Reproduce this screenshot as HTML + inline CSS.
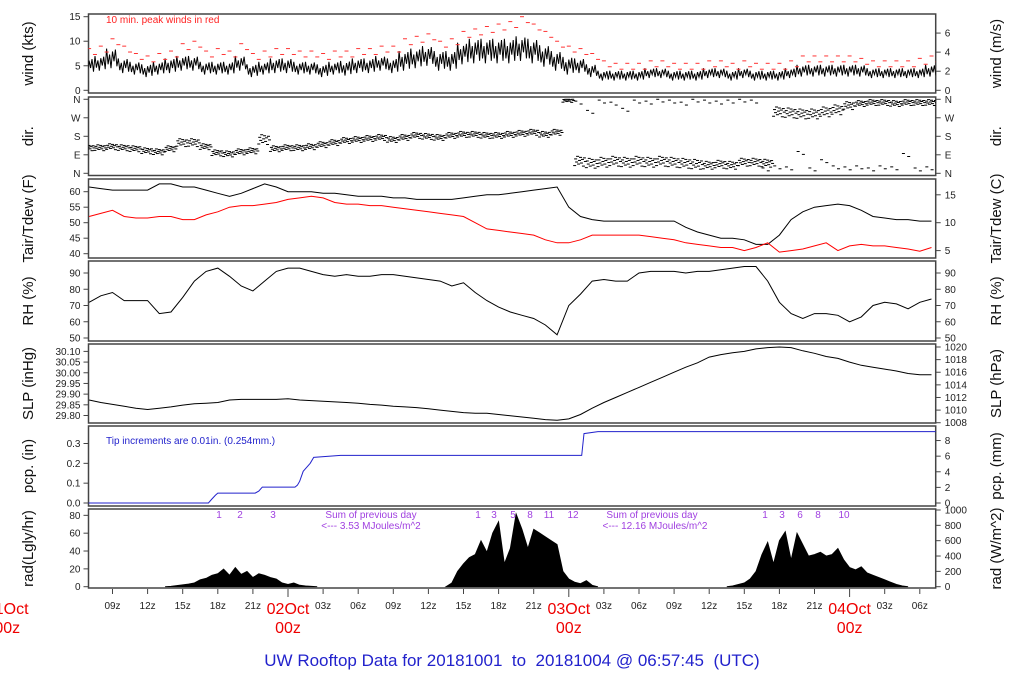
<!DOCTYPE html>
<html><head><meta charset="utf-8"><style>
html,body{margin:0;padding:0;background:#fff;}
svg{display:block;font-family:"Liberation Sans",sans-serif;}
</style></head><body>
<svg id="c" width="1024" height="700" xmlns="http://www.w3.org/2000/svg"></svg>
<script>
// ---------- data (hourly from hour 7 of 01Oct) ----------
const startHour = 7;
const windMean = [5,5.5,6.5,5,4.5,4,4.5,5,5.5,5.5,4.5,4.5,4.5,5.5,4,4.5,5,5,4.5,4.5,4,4.5,4.5,5,5,5.5,5,6,6.5,7,6,6,7.5,8,8,8,8,8.5,8,7,6,5,5,4,3,3,3,3,3.5,3.5,3,3,3,3.5,3.5,3,3.5,3,3,3,3.5,4,4,4,4,4,4,3.5,3.5,3.5,3.5,3.5,4];
const windSpread = [1.5,1.5,2,1.5,1.3,1.3,1.3,1.5,1.5,1.5,1.3,1.3,1.3,1.5,1.3,1.3,1.5,1.5,1.3,1.3,1.3,1.3,1.5,1.5,1.5,1.5,1.5,2,2,2,2,2,2.2,2.5,2.5,2.5,2.5,2.5,2.5,2.2,2,1.8,1.5,1.3,1,1,1,1,1,1,1,1,1,1,1,1,1,1,1,1,1,1.2,1.2,1.2,1.2,1.2,1.2,1,1,1,1,1,1.2];
const windGust = [8.5,9,10.5,9,7.5,7,7.5,8,9.5,10,8,8.5,8,9.5,7.5,8,8.5,8.5,8,8,7.5,8,8,8.5,8.5,9,9,10.5,11,11.5,10,10.5,12,12.5,13,13.5,14,15,13.5,12,10,9,8.5,7.5,6,5.5,5.5,5.5,6,6,5.5,5.5,5.5,6,6,5.5,6,5.5,5.5,5.5,6,7,7,7,7,7,6.5,6,6,6,6,6.5,7];
const dirMain = [125,125,130,125,120,110,105,120,150,150,130,100,95,105,110,165,120,125,125,130,140,150,160,165,170,175,165,175,185,180,175,185,190,190,185,185,190,195,200,190,200,355,60,50,55,60,55,60,55,60,55,50,45,40,45,40,55,55,50,300,295,290,290,300,310,330,340,345,345,340,345,345,345];
const dirSpread = [15,15,15,15,15,15,15,15,20,20,15,15,15,15,15,25,15,15,15,15,15,15,15,15,15,15,15,15,15,15,15,15,15,15,15,15,15,15,15,15,15,10,25,25,25,25,25,25,25,25,25,25,25,20,20,20,20,20,20,25,25,25,25,25,25,20,15,15,15,15,15,15,15];
const dirAlt = [null,null,null,null,null,null,null,null,null,null,null,null,null,null,null,null,null,null,null,null,null,null,null,null,null,null,null,null,null,null,null,null,null,null,null,null,null,null,null,null,null,null,345,300,350,340,310,350,345,355,350,340,355,350,345,350,355,350,20,30,25,100,20,60,30,25,30,20,30,25,90,20,25];
const tair = [61.5,61,60.5,60.5,60.5,60.5,62.5,62.5,61.5,61.5,60.5,59.5,58.5,59.5,61,62.5,61.5,60,60,60,59.5,59.5,59,58.5,58.5,58.5,58,58,57.5,57.5,57.5,57.5,58,58.5,59,59,59.5,60,60.5,61,61.5,55,52,51,50.5,50.5,50.5,50.5,50.5,50.5,50.5,48.5,47,46,45,45,44.5,43,43,46,51,53.5,55,55.5,56,55.5,54,52,51.5,51,51,50.5,50.5];
const tdew = [52,53,54,52,51.5,51.5,52,52,51,51,52.5,53.5,55,55.5,55.5,56,56.5,57.5,58,58.5,58,56.5,56,56,55.5,55.5,55,54.5,54,53.5,53,52.5,52,50,48,47.5,47,46.5,46,44.5,43.5,43.5,44.5,46,46,46,46,46,45.5,45,44.5,43.5,43,42.5,42,42,41,42,43.5,40.5,41,41.5,42.5,43.5,41,42.5,43,42.5,42.5,42,41.5,40.8,42];
const rh = [72,76,78,73,73,73,65,66,75,85,91,93,88,82,79,85,91,93,93,91,89,88,89,88,88,89,89,88,87,86,85,82,84,78,73,69,66,64,62,58,52,70,77,85,86,85,85,90,91,91,91,90,91,91,92,93,94,94,85,72,65,62,65,65,64,60,63,70,72,71,68,72,74];
const slp = [1011.6,1011.2,1010.9,1010.6,1010.3,1010.1,1010.3,1010.5,1010.8,1011,1011.1,1011.2,1011.6,1011.7,1011.7,1011.7,1011.7,1011.8,1011.6,1011.5,1011.4,1011.3,1011.2,1011.1,1010.9,1010.8,1010.6,1010.5,1010.4,1010.2,1010,1009.8,1009.6,1009.5,1009.5,1009.3,1009.1,1008.9,1008.7,1008.5,1008.4,1008.6,1009.3,1010.3,1011.2,1012,1012.8,1013.6,1014.4,1015.2,1016,1016.8,1017.5,1018.4,1018.8,1019.1,1019.3,1019.7,1019.9,1020,1019.9,1019.4,1019,1018.5,1018.2,1017.6,1017.1,1016.8,1016.5,1016.2,1015.8,1015.6,1015.6];
const pcpTimes = [6.8,17.2,17.5,17.8,18.0,21.2,21.5,21.8,24.6,24.8,25.0,25.3,25.6,25.9,26.2,28.5,49.1,49.3,50.5,79.6];
const pcpVals  = [0,0,0.02,0.04,0.05,0.05,0.06,0.08,0.08,0.09,0.11,0.16,0.18,0.2,0.23,0.24,0.24,0.35,0.36,0.36];
const radDay1Start = 13.5;
const radDay1 = [0,5,15,25,35,50,90,110,150,170,230,150,250,160,200,120,170,150,120,100,50,30,50,20,10,5,0];
const radDay2Start = 37.5;
const radDay2 = [0,50,200,300,380,420,600,450,700,850,300,500,950,750,500,750,700,650,600,550,200,100,60,40,80,20,0];
const radDay3Start = 61.5;
const radDay3 = [0,10,30,50,100,200,420,580,300,600,720,350,700,550,400,420,450,400,420,500,350,250,220,260,180,150,120,90,60,30,10,0];
const xTickHours = [9,12,15,18,21,24,27,30,33,36,39,42,45,48,51,54,57,60,63,66,69,72,75,78];
const dayHours = [0,24,48,72];
const dayNames = ["01Oct","02Oct","03Oct","04Oct"];

const NS="http://www.w3.org/2000/svg";
const svg=document.getElementById('c');
const L=88.5,R=935.7;
const X=h=>7.2+11.7*h;
function el(tag,attrs,parent){const e=document.createElementNS(NS,tag);for(const k in attrs)e.setAttribute(k,attrs[k]);(parent||svg).appendChild(e);return e;}
function txt(s,x,y,attrs,parent){const e=el('text',Object.assign({x:x,y:y},attrs),parent);e.textContent=s;return e;}
const clip=el('clipPath',{id:'pc'});el('rect',{x:L,y:0,width:R-L,height:700},clip);

const panels=[
 {id:'wind',t:14,b:93,lt:'wind (kts)',rt:'wind (m/s)'},
 {id:'dir',t:97,b:175.5,lt:'dir.',rt:'dir.'},
 {id:'temp',t:179,b:258,lt:'Tair/Tdew (F)',rt:'Tair/Tdew (C)'},
 {id:'rh',t:261,b:341,lt:'RH (%)',rt:'RH (%)'},
 {id:'slp',t:344,b:423,lt:'SLP (inHg)',rt:'SLP (hPa)'},
 {id:'pcp',t:426,b:506,lt:'pcp. (in)',rt:'pcp. (mm)'},
 {id:'rad',t:509,b:588,lt:'rad(Lgly/hr)',rt:'rad (W/m^2)'}];
const Y={
 wind:v=>90.3-v*4.907,
 dir:d=>173.3-d*0.2056,
 temp:f=>191.7+(60-f)*3.1,
 rh:r=>273+(90-r)*1.625,
 slp:p=>347+(1020-p)*6.31,
 pcp:i=>503-i*198.3,
 rad:w=>586.7-w*0.0767};
const leftTicks={
 wind:[[0,'0'],[5,'5'],[10,'10'],[15,'15']],
 dir:[[0,'N'],[90,'E'],[180,'S'],[270,'W'],[360,'N']],
 temp:[40,45,50,55,60].map(v=>[v,String(v)]),
 rh:[50,60,70,80,90].map(v=>[v,String(v)]),
 slp:[29.80,29.85,29.90,29.95,30.00,30.05,30.10].map(v=>[v*33.8639,v.toFixed(2)]),
 pcp:[0,0.1,0.2,0.3].map(v=>[v,v.toFixed(1)]),
 rad:[0,20,40,60,80].map(v=>[v*11.63,String(v)])};
const rightTicks={
 wind:[0,2,4,6].map(v=>[v*1.9438,String(v)]),
 dir:leftTicks.dir,
 temp:[5,10,15].map(v=>[v*9/5+32,String(v)]),
 rh:leftTicks.rh,
 slp:[1008,1010,1012,1014,1016,1018,1020].map(v=>[v,String(v)]),
 pcp:[0,2,4,6,8].map(v=>[v/25.4,String(v)]),
 rad:[0,200,400,600,800,1000].map(v=>[v,String(v)])};

panels.forEach(p=>{
 const g=el('g',{});
 
 
 el('rect',{x:L,y:p.t,width:R-L,height:p.b-p.t,fill:'none',stroke:'#444','stroke-width':1.5},g);
 const cy=(p.t+p.b)/2;
 const lt=txt(p.lt,0,0,{transform:`translate(33,${cy}) rotate(-90)`,'text-anchor':'middle','font-size':15,fill:'#111'},g);
 
 
 const rt=txt(p.rt,0,0,{transform:`translate(1001,${cy}) rotate(-90)`,'text-anchor':'middle','font-size':15,fill:'#111'},g);
 
 
 leftTicks[p.id].forEach(([v,s])=>{const y=Y[p.id](v);el('line',{x1:L-5,x2:L,y1:y,y2:y,stroke:'#444'},g);txt(s,L-8,y+3.5,{'text-anchor':'end','font-size':10,fill:'#222'},g);});
 rightTicks[p.id].forEach(([v,s])=>{const y=Y[p.id](v);el('line',{x1:R,x2:R+5,y1:y,y2:y,stroke:'#444'},g);txt(s,R+9,y+3.5,{'font-size':10,fill:'#222'},g);});
});

function poly(pts){return pts.map(p=>p[0].toFixed(1)+','+p[1].toFixed(1)).join(' ');}
const plot=el('g',{'clip-path':'url(#pc)'});

// wind: zigzag between mean±spread to mimic 1-min noise
{
 const zz=[1,-0.6,0.4,-1,0.7,-0.3,0.9,-0.8];
 const pts=[];
 windMean.forEach((m,i)=>{zz.forEach((o,k)=>{pts.push([X(startHour+i-0.5+k/8),Y.wind(Math.max(0,m+o*windSpread[i]))]);});});
 const ml=el('polyline',{points:poly(pts),fill:'none',stroke:'#000','stroke-width':1},plot);
 
 
 windGust.forEach((g,i)=>{
  [[0,0],[0.5,-1.2]].forEach(([dx,dy])=>{
   const x=X(startHour+i+dx),y=Y.wind(g+dy);
   const d=el('line',{x1:x-2,x2:x+2,y1:y,y2:y,stroke:'#f33','stroke-width':1},plot);
   
   
  });
 });
 const t=txt('10 min. peak winds in red',106,23,{'font-size':10,fill:'#f22'});
 
 
}
// direction dashes
{
 const pat=[-0.9,0.4,-0.2,0.9,-0.6,0.1,0.7,-0.4,0.3,-1,0.6,-0.1];
 const g=el('g',{stroke:'#000','stroke-width':1},plot);
 
 
 dirMain.forEach((d,i)=>{
  pat.forEach((o,k)=>{
   const x=X(startHour+i+k/12-0.5),y=Y.dir(Math.min(360,Math.max(0,d+o*dirSpread[i])));
   el('line',{x1:x-1.5,x2:x+1.5,y1:y,y2:y},g);
  });
  const a=dirAlt[i];
  if(a!==null){[0.1,0.55].forEach((f,k)=>{const x=X(startHour+i+f-0.5),y=Y.dir(Math.min(360,a+(k?-8:6)));el('line',{x1:x-1.5,x2:x+1.5,y1:y,y2:y},g);});}
 });
}
{
 const a=el('polyline',{points:poly(tair.map((v,i)=>[X(startHour+i),Y.temp(v)])),fill:'none',stroke:'#000','stroke-width':1},plot);
 
 
 const d=el('polyline',{points:poly(tdew.map((v,i)=>[X(startHour+i),Y.temp(v)])),fill:'none',stroke:'#f00','stroke-width':1},plot);
 
 
}
{
 const l=el('polyline',{points:poly(rh.map((v,i)=>[X(startHour+i),Y.rh(v)])),fill:'none',stroke:'#000','stroke-width':1},plot);
 
 
}
{
 const l=el('polyline',{points:poly(slp.map((v,i)=>[X(startHour+i),Y.slp(v)])),fill:'none',stroke:'#000','stroke-width':1},plot);
 
 
}
{
 const l=el('polyline',{points:poly(pcpTimes.map((t,i)=>[X(t),Y.pcp(pcpVals[i])])),fill:'none',stroke:'#22c','stroke-width':1},plot);
 
 
 const t=txt('Tip increments are 0.01in. (0.254mm.)',106,444,{'font-size':10,fill:'#22c'});
 
 
}
[[radDay1Start,radDay1],[radDay2Start,radDay2],[radDay3Start,radDay3]].forEach(([s,arr],di)=>{
 const pts=arr.map((w,i)=>[X(s+i*0.5),Y.rad(w)]);
 pts.push([X(s+(arr.length-1)*0.5),Y.rad(0)]);pts.unshift([X(s),Y.rad(0)]);
 const p=el('polygon',{points:poly(pts),fill:'#000',stroke:'#000','stroke-width':0.8},plot);
 
 
});
{
 const g=el('g',{fill:'#a040e0','font-size':10});
 
 
 [['1',219],['2',240],['3',273],['1',478],['3',494],['5',513],['8',530],['11',549],['12',573],['1',765],['3',782],['6',800],['8',818],['10',844]].forEach(([s,x])=>txt(s,x,518,{'text-anchor':'middle'},g));
 txt('Sum of previous day',371,518,{'text-anchor':'middle'},g);
 txt('<--- 3.53 MJoules/m^2',371,529,{'text-anchor':'middle'},g);
 txt('Sum of previous day',652,518,{'text-anchor':'middle'},g);
 txt('<--- 12.16 MJoules/m^2',655,529,{'text-anchor':'middle'},g);
}
{
 const g=el('g',{});
 
 
 xTickHours.forEach(h=>{const x=X(h);const isDay=h%24===0;el('line',{x1:x,x2:x,y1:589,y2:isDay?597:594,stroke:'#444'},g);
  if(!isDay)txt(String(h%24).padStart(2,'0')+'z',x,609,{'text-anchor':'middle','font-size':10,fill:'#222'},g);});
 dayHours.forEach((h,i)=>{const x=X(h);
  txt(dayNames[i],x,614,{'text-anchor':'middle','font-size':16,fill:'#e00'},g);
  txt('00z',x,633,{'text-anchor':'middle','font-size':16,fill:'#e00'},g);});
}
const title=txt('UW Rooftop Data for 20181001  to  20181004 @ 06:57:45  (UTC)',512,666,{'text-anchor':'middle','font-size':17,fill:'#22c','xml:space':'preserve'});


title.style.whiteSpace='pre';
</script>
</body></html>
